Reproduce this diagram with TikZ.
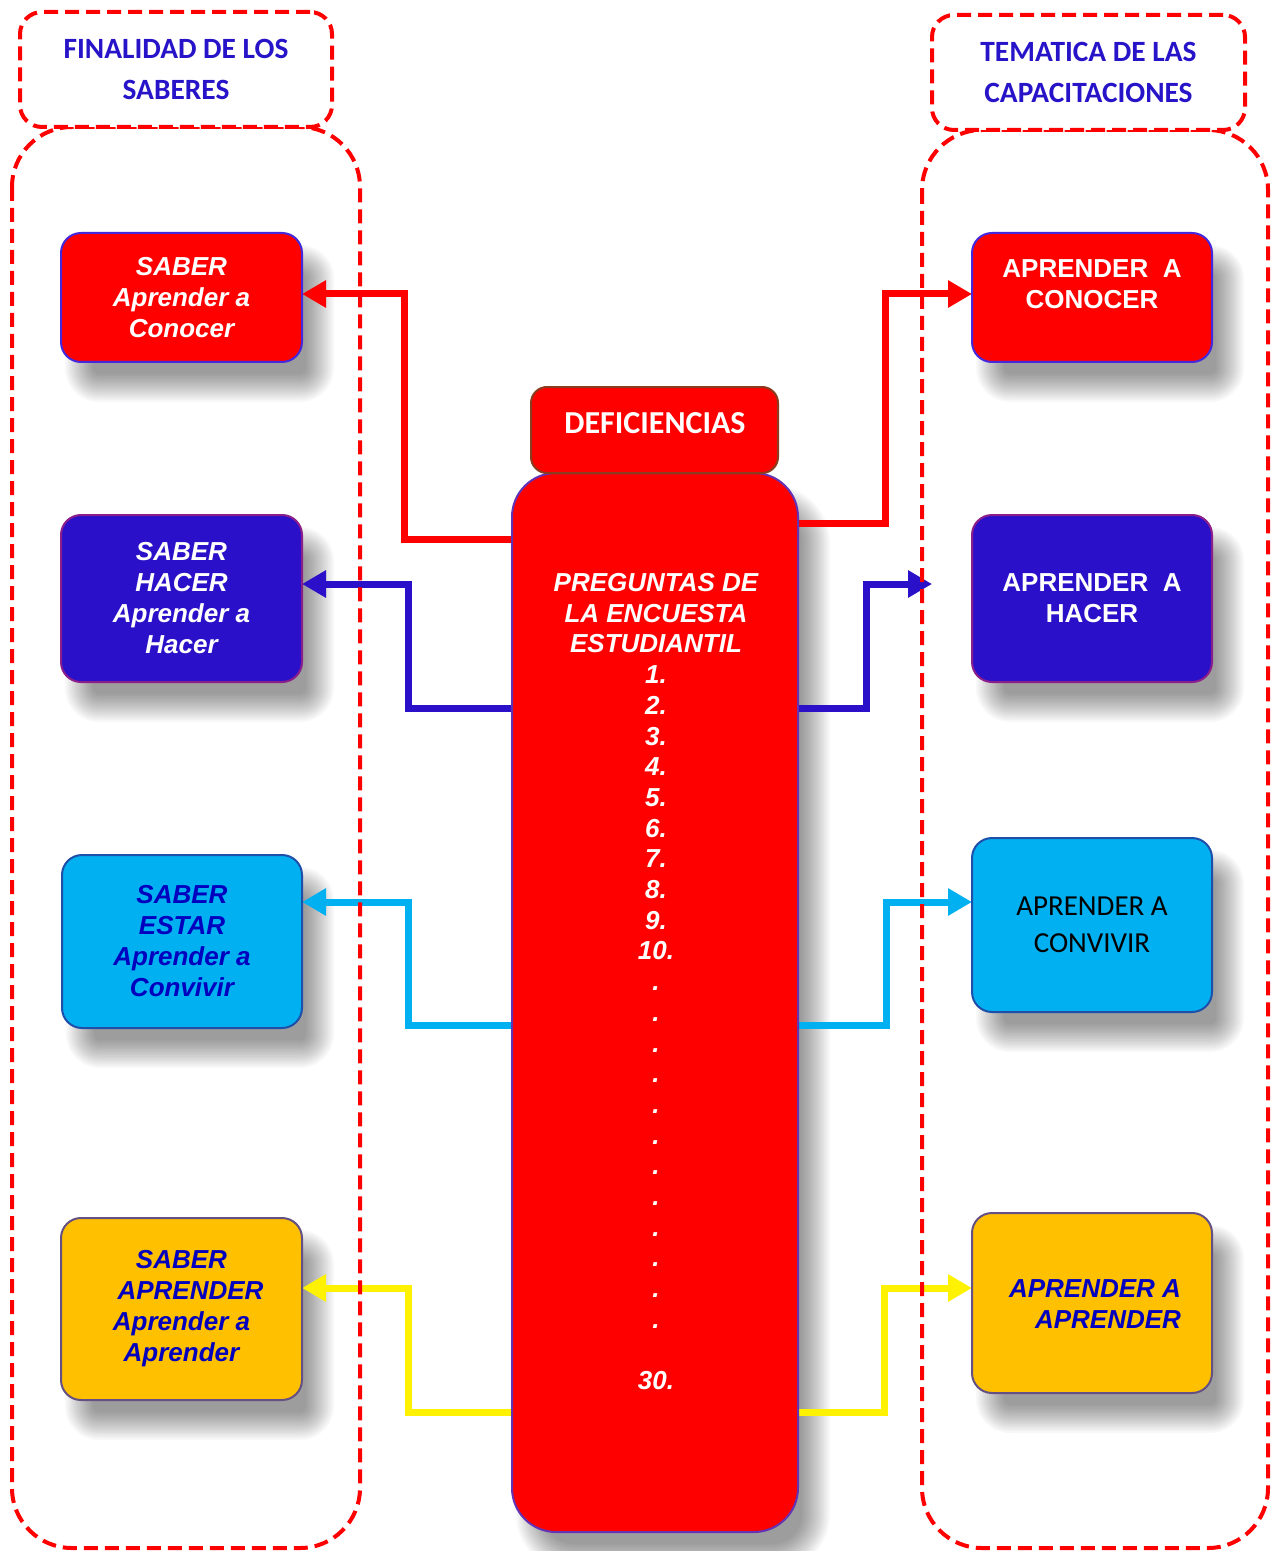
\documentclass[tikz,border=0pt]{standalone}
\usepackage{fontspec}
\newfontfamily\arialf{Liberation Sans}
\newfontfamily\calibf{Carlito}
\usetikzlibrary{arrows.meta,calc}
\definecolor{hdrblue}{RGB}{40,20,200}
\definecolor{boxblue}{RGB}{42,16,200}
\definecolor{txtblue}{RGB}{0,0,190}
\definecolor{cyanbox}{RGB}{0,176,240}
\definecolor{goldbox}{RGB}{255,192,0}
\definecolor{brownb}{RGB}{140,60,30}
\definecolor{colborder}{RGB}{100,50,180}
\definecolor{rb}{RGB}{70,40,220}
\definecolor{bb}{RGB}{140,30,140}
\definecolor{cb}{RGB}{30,80,170}
\definecolor{gb}{RGB}{100,80,130}
\newcommand\boxshadow[2]{%
  \foreach \i in {0,...,15}{%
    \pgfmathsetmacro\e{7-\i*0.93}%
    \fill[black, opacity=0.026, rounded corners={(#2+\e)*1pt}]
      ([xshift={(9-\e)*1pt}, yshift={(-13-\e)*1pt}]#1.south west) rectangle
      ([xshift={(9+\e)*1pt}, yshift={(-13+\e)*1pt}]#1.north east);
  }}
\tikzset{
  dashbox/.style={draw=red, line width=2pt, dash pattern=on 7pt off 3.5pt},
  hdr/.style={dashbox, rounded corners=11pt, minimum width=156pt, minimum height=57.5pt,
    align=center, text=hdrblue, inner sep=0pt,
    font={\calibf\bfseries\fontsize{14.7}{20.5}\selectfont}},
  sbox/.style={rounded corners=10pt, line width=1pt, minimum width=120.5pt,
    align=center, inner sep=0pt, outer sep=0pt},
  aitfont/.style={font={\arialf\bfseries\itshape\fontsize{13}{15.5}\selectfont}},
  abfont/.style={font={\arialf\bfseries\fontsize{13}{15.5}\selectfont}},
  conn/.style={line width=3.5pt, -{Triangle[length=12pt,width=13pt]}},
  colstyle/.style={draw=colborder, fill=red, line width=1pt, rounded corners=22pt,
    minimum width=143pt, minimum height=529.5pt, inner sep=0pt, outer sep=0pt},
}
\begin{document}
\begin{tikzpicture}[x=0.5pt,y=-0.5pt]
\fill[white] (0,0) rectangle (1270,1551);
\useasboundingbox (0,0) rectangle (1270,1551);

% bend coordinates
\coordinate (l1a) at (404,539); \coordinate (l1b) at (404,294);
\coordinate (r1a) at (885,523); \coordinate (r1b) at (885,294);
\coordinate (l2a) at (408,708); \coordinate (l2b) at (408,584);
\coordinate (r2a) at (866,708); \coordinate (r2b) at (866,584);
\coordinate (btip) at (932,584);
\coordinate (l3a) at (408,1025); \coordinate (l3b) at (408,902);
\coordinate (r3a) at (886,1025); \coordinate (r3b) at (886,902);
\coordinate (l4a) at (408,1412); \coordinate (l4b) at (408,1288);
\coordinate (r4a) at (884,1412); \coordinate (r4b) at (884,1288);

% invisible placement of nodes (for shadows), then shadows
\path (655,1002.5) node[colstyle, draw=none, fill=none] (col) {};
\path (181.5,297.5) node[sbox, minimum height=64.5pt] (sl1) {};
\path (181.5,598.5) node[sbox, minimum height=83.5pt] (sl2) {};
\path (182,941.5) node[sbox, minimum width=120pt, minimum height=86.5pt] (sl3) {};
\path (181.5,1309) node[sbox, minimum height=91pt] (sl4) {};
\path (1092,297.5) node[sbox, minimum width=120pt, minimum height=64.5pt] (sr1) {};
\path (1092,598.5) node[sbox, minimum width=120pt, minimum height=83.5pt] (sr2) {};
\path (1092,925) node[sbox, minimum width=120pt, minimum height=87pt] (sr3) {};
\path (1092,1303) node[sbox, minimum width=120pt, minimum height=90pt] (sr4) {};
\boxshadow{col}{22}
\foreach \n in {sl1,sl2,sl3,sl4,sr1,sr2,sr3,sr4}{\boxshadow{\n}{10}}

% connectors
\draw[conn, red] (col.west |- l1a) -- (l1a) -- (l1b) -- (sl1.east |- l1b);
\draw[conn, red] (col.east |- r1a) -- (r1a) -- (r1b) -- (sr1.west |- r1b);
\draw[conn, boxblue] (col.west |- l2a) -- (l2a) -- (l2b) -- (sl2.east |- l2b);
\draw[conn, boxblue] (col.east |- r2a) -- (r2a) -- (r2b) -- (btip);
\draw[conn, cyanbox] (col.west |- l3a) -- (l3a) -- (l3b) -- (sl3.east |- l3b);
\draw[conn, cyanbox] (col.east |- r3a) -- (r3a) -- (r3b) -- (sr3.west |- r3b);
\draw[conn, yellow] (col.west |- l4a) -- (l4a) -- (l4b) -- (sl4.east |- l4b);
\draw[conn, yellow] (col.east |- r4a) -- (r4a) -- (r4b) -- (sr4.west |- r4b);

% left boxes
\node[sbox, fill=red, draw=rb, minimum height=64.5pt, text=white, aitfont] (sl1b) at (sl1.center)
  {SABER\\Aprender a\\Conocer};
\node[sbox, fill=boxblue, draw=bb, minimum height=83.5pt, text=white, aitfont] (sl2b) at (sl2.center)
  {SABER\\HACER\\Aprender a\\Hacer};
\node[sbox, fill=cyanbox, draw=cb, minimum width=120pt, minimum height=86.5pt, text=txtblue, aitfont] (sl3b) at (sl3.center)
  {SABER\\ESTAR\\Aprender a\\Convivir};
\node[sbox, fill=goldbox, draw=gb, minimum height=91pt, text=txtblue, aitfont] (sl4b) at (sl4.center)
  {SABER\\\hspace*{9pt}APRENDER\\Aprender a\\Aprender};

% right boxes
\node[sbox, fill=red, draw=rb, minimum width=120pt, minimum height=64.5pt] (sr1b) at (sr1.center) {};
\node[text=white, abfont, align=center, inner sep=0pt] (sr1t) at (1092,284.5) {APRENDER\ \ A\\CONOCER};
\node[sbox, fill=boxblue, draw=bb, minimum width=120pt, minimum height=83.5pt, text=white, abfont] (sr2b) at (sr2.center)
  {APRENDER\ \ A\\HACER};
\node[sbox, fill=cyanbox, draw=cb, minimum width=120pt, minimum height=87pt, text=black,
  font={\calibf\fontsize{14.5}{18.5}\selectfont}] (sr3b) at (sr3.center)
  {APRENDER A\\CONVIVIR};
\node[sbox, fill=goldbox, draw=gb, minimum width=120pt, minimum height=90pt] (sr4b) at (sr4.center) {};
\node[text=txtblue, aitfont, align=right, inner sep=0pt] (sr4t) at (1095,1304) {APRENDER A\\APRENDER};

% column
\node[colstyle] (colb) at (col.center) {};
\node[anchor=north, text=white, align=center, inner sep=0pt,
  font={\arialf\bfseries\itshape\fontsize{13}{15.35}\selectfont}] (qtext) at (656,573)
  {PREGUNTAS DE\\LA ENCUESTA\\ESTUDIANTIL\\1.\\2.\\3.\\4.\\5.\\6.\\7.\\8.\\9.\\10.\\
   .\\.\\.\\.\\.\\.\\.\\.\\.\\.\\.\\.\\[15.35pt]30.};

% deficiencias
\node[draw=brownb, fill=red, line width=1pt, rounded corners=8pt, minimum width=123.5pt,
  minimum height=43pt, inner sep=0pt] (def) at (654.5,430) {};
\node[text=white, inner sep=0pt, font={\calibf\bfseries\fontsize{16}{19}\selectfont}] (deft) at (655,423) {DEFICIENCIAS};

% dashed frames
\draw[dashbox, rounded corners=30pt] (12,127) rectangle (360,1548);
\draw[dashbox, rounded corners=30pt] (922,130) rectangle (1268,1548);
\node[hdr, fill=white] (hl) at (176,69.5) {FINALIDAD DE LOS\\SABERES};
\node[hdr, fill=white, minimum width=156.5pt] (hr) at (1088.5,72.5) {TEMATICA DE LAS\\CAPACITACIONES};
\end{tikzpicture}
\end{document}
